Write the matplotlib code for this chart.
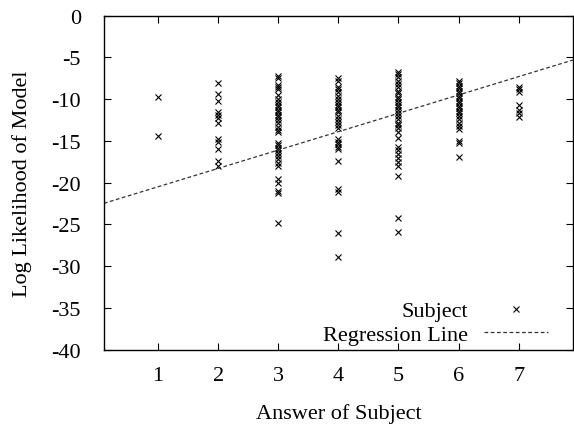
import matplotlib
matplotlib.use('Agg')
import matplotlib.pyplot as plt
import numpy as np

plt.rcParams['font.family'] = ['Liberation Serif', 'DejaVu Serif']
plt.rcParams['axes.unicode_minus'] = False

# answers given by subjects and log likelihood of the model for each
ans1 = [-9.8, -14.4]
ans2 = [-8.1, -9.4, -10.25, -11.6, -11.9, -12.25, -12.8, -14.8, -15.1, -16.0, -17.4, -18.0]
ans3 = [-7.2, -7.5, -8.3, -8.5, -8.8, -9.5, -10.0, -10.4, -10.7, -11.0, -11.3, -11.6,
        -11.9, -12.2, -12.5, -12.9, -13.3, -13.7, -13.9, -15.2, -15.5, -15.8, -16.1,
        -16.4, -16.8, -17.2, -17.6, -18.0, -19.6, -20.1, -21.0, -21.2, -24.8]
ans4 = [-7.5, -7.8, -8.5, -8.8, -9.2, -9.6, -10.0, -10.3, -10.7, -11.0, -11.3, -11.6,
        -12.0, -12.4, -12.7, -13.1, -13.5, -14.8, -15.1, -15.4, -15.7, -16.0, -17.4,
        -20.8, -21.1, -26.0, -28.9]
ans5 = [-6.7, -7.0, -7.4, -7.8, -8.2, -8.6, -9.0, -9.3, -9.7, -10.0, -10.4, -10.7,
        -11.0, -11.3, -11.7, -12.0, -12.4, -12.8, -13.1, -13.5, -13.9, -14.7, -15.7,
        -16.1, -16.6, -17.0, -17.5, -18.0, -19.2, -24.2, -25.9]
ans6 = [-7.8, -8.1, -8.4, -8.7, -9.0, -9.3, -9.6, -9.9, -10.2, -10.5, -10.8, -11.1,
        -11.4, -11.7, -12.0, -12.4, -12.8, -13.2, -13.6, -15.0, -15.3, -16.9]
ans7 = [-8.5, -8.8, -9.1, -10.7, -11.3, -11.7, -12.2]
columns = [ans1, ans2, ans3, ans4, ans5, ans6, ans7]

# regression line y = slope * x + intercept
slope = 2.2
intercept = -22.7
line_x = [0.1, 7.9]

xs = []
ys = []
for i, col in enumerate(columns):
    xs += [i + 1] * len(col)
    ys += col

fig = plt.figure(figsize=(5.74, 4.27), dpi=100)
ax = fig.add_axes([0.181, 0.179, 0.817, 0.782])

ax.plot(xs, ys, 'x', color='black', markersize=5, markeredgewidth=0.8,
        label='Subject')
lx = np.array(line_x)
ax.plot(lx, slope * lx + intercept, color='#333333', linestyle=(0, (3, 2)),
        linewidth=0.9, label='Regression Line')

ax.set_xlim(0.1, 7.9)
ax.set_ylim(-40, 0)
ax.set_xticks(range(1, 8))
ax.set_yticks(range(-40, 1, 5))
ax.tick_params(direction='in', top=True, right=True, length=5, width=0.8,
               labelsize=16)
ax.tick_params(axis='x', pad=12)
ax.tick_params(axis='y', pad=16.5)
for s in ax.spines.values():
    s.set_linewidth(1.0)

ax.set_xlabel('Answer of Subject', fontsize=16, labelpad=13)
ax.set_ylabel('Log Likelihood of Model', fontsize=16, labelpad=14)

ax.legend(loc='lower right', frameon=False, markerfirst=False, fontsize=16,
          handlelength=2.85, labelspacing=0.14, borderaxespad=0.0,
          handletextpad=0.72, bbox_to_anchor=(0.965, -0.013))

fig.savefig('out.png', dpi=100)
